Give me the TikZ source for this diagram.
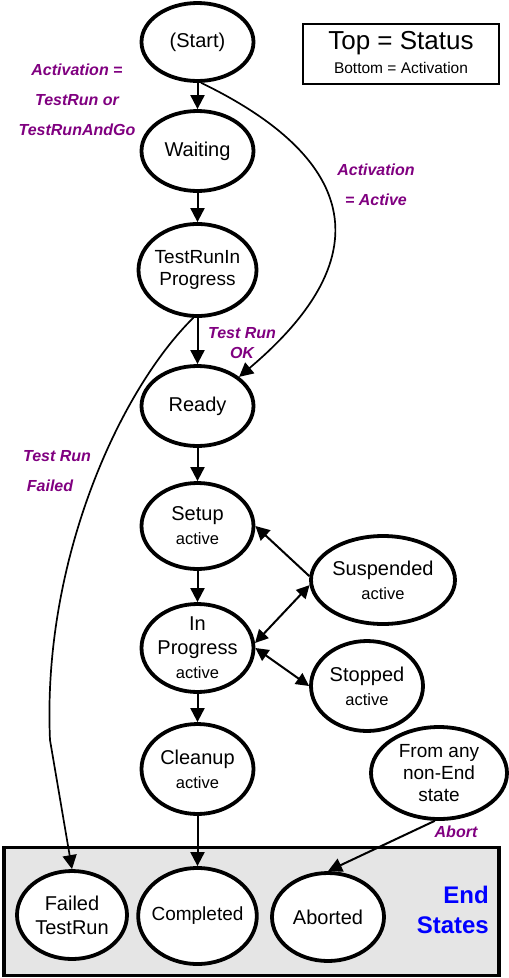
\documentclass[tikz,border=0pt]{standalone}
\usepackage{fontspec}
\setmainfont{Liberation Sans}
\usetikzlibrary{shapes.geometric,arrows.meta}
\definecolor{lblpurple}{RGB}{128,0,128}
\definecolor{endgray}{RGB}{229,229,229}
\definecolor{endblue}{RGB}{0,0,255}
\newcommand{\actv}{\fontsize{16.5}{20}\selectfont active}
\begin{document}
\begin{tikzpicture}[x=1pt,y=-1pt,
  state/.style={ellipse,draw,line width=3.8pt,fill=white,inner sep=-4pt,align=center,
    font=\fontsize{20}{24}\selectfont},
  arr/.style={line width=2pt,-{Triangle[length=14pt,width=14pt]}},
  darr/.style={line width=2pt,{Triangle[length=13pt,width=13pt]}-{Triangle[length=13pt,width=13pt]}},
  curv/.style={line width=1.7pt,-{Triangle[length=14pt,width=14pt]}},
  lbl/.style={text=lblpurple,font=\fontsize{16}{30}\selectfont\bfseries\itshape,align=center,inner sep=0pt}
]
\useasboundingbox (0,0) rectangle (509,978);
% End states box
\node[draw,line width=3.8pt,fill=endgray,minimum width=495pt,minimum height=128pt,inner sep=0pt] (endbox) at (251.5,911.5) {};
\node[anchor=east,align=right,text=endblue,font=\fontsize{24}{30}\selectfont\bfseries,inner sep=0pt] (endlbl) at (489,910) {End\\States};
% legend
\node[draw,line width=1.3pt,minimum width=196pt,minimum height=60pt,inner sep=0pt] (legend) at (401,54) {};
\node[font=\fontsize{26}{28}\selectfont,inner sep=0pt] (legtop) at (401,43) {Top = Status};
\node[font=\fontsize{15.5}{17}\selectfont,inner sep=0pt] (legbot) at (401,68) {Bottom = Activation};
% states
\node[state,minimum width=112pt,minimum height=78pt] (start) at (197.5,42) {(Start)};
\node[state,minimum width=112pt,minimum height=80pt] (waiting) at (197.5,151) {Waiting};
\node[state,minimum width=118pt,minimum height=92pt,font=\fontsize{19}{22}\selectfont] (trip) at (197.5,270) {TestRunIn\\Progress};
\node[state,minimum width=112pt,minimum height=80pt] (ready) at (197.5,406) {Ready};
\node[state,minimum width=112pt,minimum height=86pt] (setup) at (197.5,526) {Setup\\\actv};
\node[state,minimum width=144pt,minimum height=88pt] (susp) at (383,580) {Suspended\\\actv};
\node[state,minimum width=112pt,minimum height=88pt] (inprog) at (197.5,648) {In\\Progress\\\actv};
\node[state,minimum width=112pt,minimum height=90pt] (stopped) at (367,686) {Stopped\\\actv};
\node[state,minimum width=112pt,minimum height=90pt] (cleanup) at (197.5,769) {Cleanup\\\actv};
\node[state,minimum width=136pt,minimum height=92pt,font=\fontsize{19}{22}\selectfont] (fromany) at (439,773) {From any\\non-End\\state};
\node[state,minimum width=110pt,minimum height=88pt] (failed) at (72,915) {Failed\\TestRun};
\node[state,minimum width=118pt,minimum height=96pt,font=\fontsize{19}{22}\selectfont] (completed) at (197.5,916) {Completed};
\node[state,minimum width=112pt,minimum height=88pt] (aborted) at (328,917) {Aborted};
% labels
\node[lbl] (l1) at (77,100) {Activation =\\TestRun or\\TestRunAndGo};
\node[lbl] (l2) at (376,185) {Activation\\= Active};
\node[lbl,font=\fontsize{16}{20}\selectfont\bfseries\itshape] (l3) at (242,343) {Test Run\\OK};
\node[lbl] (l4) at (57,456) {Test Run};
\node[lbl] (l5) at (50,486) {Failed};
\node[lbl] (l6) at (456,832) {Abort};
% connectors
\draw[arr] (start) -- (waiting);
\draw[arr] (waiting) -- (trip);
\draw[arr] (trip) -- (ready);
\draw[arr] (ready) -- (setup);
\draw[arr] (setup) -- (inprog);
\draw[arr] (inprog) -- (cleanup);
\draw[arr] (cleanup) -- (completed);
\draw[arr] (susp.177) -- (setup.east);
\draw[darr] (inprog.5) -- (susp.184);
\draw[darr] (inprog.east) -- (stopped.west);
\draw[arr] (fromany.265) -- (aborted.north);
\draw[curv] (start.-85) .. controls (340,150) and (395,245) .. (ready.35);
\coordinate (fbend) at (50,740);
\draw[curv] (trip.265) .. controls (120,390) and (42,560) .. (fbend) -- (failed.north);
\end{tikzpicture}
\end{document}
